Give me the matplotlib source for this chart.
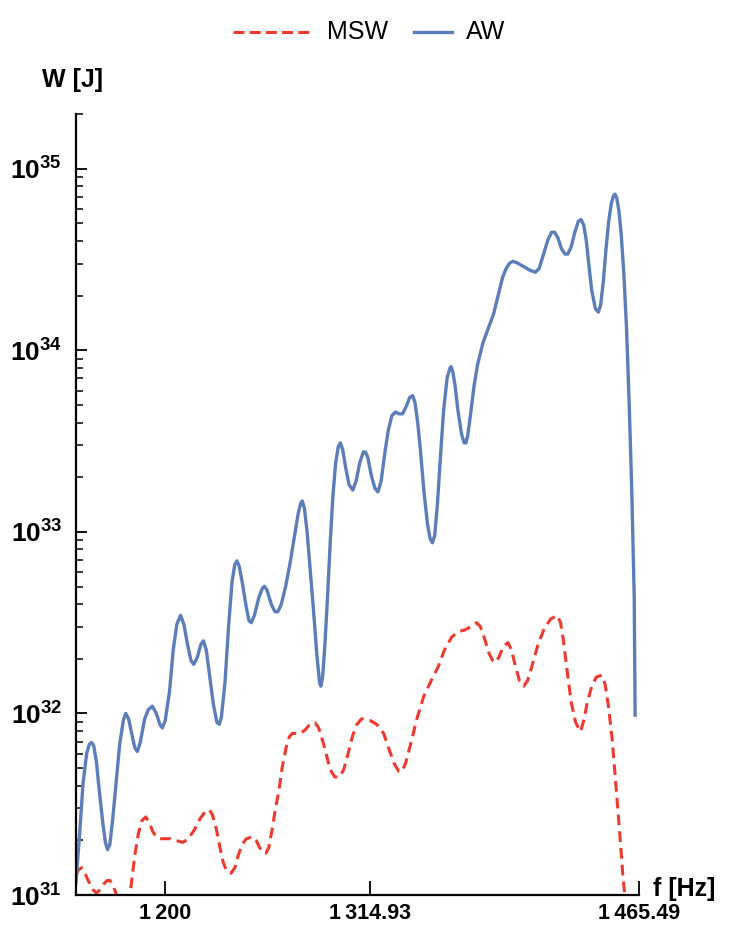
import numpy as np
import matplotlib
matplotlib.use('Agg')
import matplotlib.pyplot as plt
from matplotlib.lines import Line2D
from matplotlib.ticker import FixedLocator, LogLocator, FuncFormatter, NullFormatter

plt.rcParams['font.family'] = ['Liberation Sans', 'DejaVu Sans']
plt.rcParams['mathtext.fontset'] = 'custom'
plt.rcParams['mathtext.rm'] = 'Liberation Sans'
plt.rcParams['mathtext.bf'] = 'Liberation Sans:bold'

## AW curve: frequency [Hz] and log10 of W [J]
aw_f = [1150.0, 1152.0, 1154.0, 1156.0, 1157.5, 1158.8, 1160.0, 1161.5, 1163.0, 1165.0,
        1166.5, 1167.7, 1169.0, 1170.6, 1172.5, 1174.5, 1176.5, 1177.9, 1179.5, 1181.2,
        1183.0, 1184.4, 1186.0, 1188.5, 1190.5, 1192.8, 1195.0, 1197.0, 1198.4, 1200.0,
        1202.4, 1204.5, 1206.5, 1208.6, 1210.5, 1212.5, 1214.5, 1216.0, 1218.0, 1220.0,
        1221.4, 1223.0, 1225.0, 1227.0, 1229.0, 1230.3, 1231.5, 1233.5, 1235.5, 1237.5,
        1239.0, 1240.2, 1241.5, 1243.2, 1245.5, 1247.0, 1248.2, 1250.0, 1252.5, 1254.5,
        1255.6, 1257.0, 1259.5, 1261.5, 1263.1, 1265.0, 1267.5, 1270.0, 1272.5, 1274.5,
        1276.0, 1276.8, 1278.0, 1279.5, 1281.0, 1283.0, 1285.0, 1286.5, 1287.2, 1288.2,
        1289.5, 1291.0, 1292.5, 1294.0, 1295.5, 1297.0, 1298.2, 1299.5, 1301.0, 1303.0,
        1305.1, 1307.0, 1309.0, 1311.0, 1312.2, 1313.5, 1315.5, 1317.5, 1319.2, 1321.0,
        1323.0, 1325.0, 1327.0, 1329.0, 1331.0, 1333.0, 1335.0, 1337.0, 1338.7, 1340.0,
        1341.5, 1343.0, 1345.0, 1347.0, 1348.5, 1349.7, 1351.0, 1352.5, 1354.0, 1356.0,
        1358.0, 1359.5, 1360.2, 1361.2, 1362.5, 1364.0, 1366.0, 1367.5, 1368.5, 1369.5,
        1371.0, 1373.0, 1375.0, 1378.0, 1381.0, 1384.0, 1386.5, 1389.0, 1391.0, 1393.0,
        1394.9, 1397.5, 1401.0, 1404.5, 1407.4, 1409.5, 1412.0, 1414.5, 1416.5, 1418.2,
        1420.0, 1422.0, 1424.0, 1425.6, 1427.5, 1429.5, 1431.5, 1433.0, 1434.5, 1436.0,
        1437.5, 1439.0, 1441.0, 1442.7, 1444.0, 1445.5, 1447.0, 1448.5, 1450.0, 1451.2,
        1452.0, 1453.0, 1454.2, 1455.5, 1457.0, 1458.5, 1460.0, 1461.5, 1462.8, 1463.3]
aw_lg = [31.07, 31.33, 31.62, 31.78, 31.83, 31.84, 31.82, 31.73, 31.58, 31.40,
         31.29, 31.25, 31.28, 31.42, 31.62, 31.83, 31.96, 32.00, 31.97, 31.89,
         31.81, 31.79, 31.84, 31.97, 32.02, 32.04, 32.00, 31.94, 31.92, 31.96,
         32.12, 32.35, 32.49, 32.54, 32.49, 32.38, 32.29, 32.27, 32.31, 32.38,
         32.40, 32.35, 32.20, 32.05, 31.95, 31.94, 31.98, 32.17, 32.48, 32.73,
         32.82, 32.84, 32.81, 32.72, 32.58, 32.51, 32.50, 32.54, 32.64, 32.69,
         32.70, 32.68, 32.60, 32.56, 32.56, 32.60, 32.70, 32.83, 32.98, 33.10,
         33.16, 33.17, 33.13, 33.00, 32.82, 32.58, 32.32, 32.17, 32.15, 32.20,
         32.38, 32.65, 32.95, 33.20, 33.38, 33.47, 33.49, 33.45, 33.36, 33.26,
         33.23, 33.28, 33.38, 33.44, 33.44, 33.41, 33.31, 33.24, 33.22, 33.28,
         33.43, 33.56, 33.64, 33.66, 33.65, 33.65, 33.69, 33.74, 33.75, 33.71,
         33.60, 33.45, 33.22, 33.04, 32.96, 32.94, 32.98, 33.15, 33.38, 33.67,
         33.85, 33.90, 33.91, 33.88, 33.80, 33.67, 33.54, 33.49, 33.49, 33.53,
         33.64, 33.80, 33.92, 34.04, 34.12, 34.20, 34.30, 34.40, 34.45, 34.48,
         34.49, 34.48, 34.46, 34.44, 34.43, 34.45, 34.53, 34.61, 34.65, 34.65,
         34.62, 34.56, 34.53, 34.53, 34.57, 34.65, 34.71, 34.72, 34.69, 34.60,
         34.46, 34.33, 34.23, 34.21, 34.25, 34.38, 34.56, 34.71, 34.81, 34.85,
         34.86, 34.84, 34.77, 34.64, 34.42, 34.12, 33.70, 33.20, 32.64, 31.99]

## MSW curve
msw_f = [1150.0, 1151.5, 1153.2, 1155.0, 1157.3, 1159.5, 1161.5, 1163.5, 1165.5, 1167.5,
         1169.0, 1170.5, 1172.0, 1173.4, 1175.0, 1176.8, 1178.5, 1180.1, 1181.5, 1183.0,
         1185.0, 1187.0, 1189.1, 1191.0, 1193.0, 1195.0, 1197.0, 1200.0, 1203.0, 1206.0,
         1209.9, 1213.0, 1216.4, 1219.5, 1222.5, 1224.8, 1226.5, 1228.5, 1230.5, 1232.5,
         1234.5, 1236.9, 1239.0, 1241.0, 1243.2, 1245.5, 1248.9, 1251.0, 1253.0, 1255.0,
         1256.4, 1258.0, 1259.9, 1261.5, 1263.8, 1265.5, 1267.7, 1269.5, 1271.2, 1273.5,
         1275.9, 1278.5, 1281.0, 1283.9, 1286.0, 1288.5, 1290.6, 1292.5, 1295.0, 1297.8,
         1300.0, 1302.5, 1305.1, 1307.5, 1310.0, 1312.3, 1315.0, 1318.5, 1322.4, 1325.5,
         1328.5, 1331.0, 1332.6, 1334.5, 1337.5, 1341.0, 1344.7, 1348.5, 1353.1, 1356.5,
         1360.5, 1364.0, 1368.0, 1371.5, 1374.4, 1376.5, 1379.0, 1381.5, 1383.5, 1385.0,
         1387.0, 1389.5, 1392.1, 1394.0, 1396.0, 1398.5, 1400.9, 1403.0, 1405.5, 1408.9,
         1412.5, 1416.0, 1419.6, 1421.5, 1423.0, 1425.0, 1427.5, 1430.0, 1432.7, 1434.5,
         1436.5, 1439.0, 1441.5, 1444.6, 1446.5, 1448.5, 1450.5, 1452.5, 1454.6, 1456.5,
         1457.6, 1459.1]
msw_lg = [31.11, 31.14, 31.15, 31.12, 31.07, 31.03, 31.01, 31.03, 31.06, 31.08,
          31.08, 31.06, 31.02, 30.98, 30.90, 30.86, 30.90, 30.99, 31.10, 31.22,
          31.34, 31.41, 31.43, 31.40, 31.35, 31.32, 31.31, 31.31, 31.31, 31.30,
          31.29, 31.31, 31.36, 31.42, 31.46, 31.47, 31.44, 31.37, 31.27, 31.18,
          31.13, 31.12, 31.15, 31.22, 31.28, 31.31, 31.32, 31.30, 31.26, 31.23,
          31.23, 31.26, 31.36, 31.46, 31.58, 31.70, 31.81, 31.87, 31.89, 31.89,
          31.89, 31.91, 31.94, 31.95, 31.92, 31.84, 31.76, 31.69, 31.65, 31.65,
          31.69, 31.78, 31.88, 31.94, 31.97, 31.97, 31.96, 31.94, 31.89, 31.80,
          31.72, 31.68, 31.68, 31.72, 31.83, 31.97, 32.09, 32.17, 32.26, 32.35,
          32.42, 32.45, 32.46, 32.48, 32.50, 32.48, 32.41, 32.33, 32.29, 32.28,
          32.31, 32.37, 32.39, 32.35, 32.27, 32.18, 32.15, 32.18, 32.26, 32.38,
          32.47, 32.52, 32.54, 32.50, 32.41, 32.25, 32.06, 31.95, 31.90, 31.96,
          32.06, 32.15, 32.20, 32.21, 32.16, 32.03, 31.85, 31.61, 31.35, 31.10,
          30.99, 30.80]

xticks = [1200, 1314.93, 1465.49]
xtick_labels = ['1\u2009200', '1\u2009314.93', '1\u2009465.49']

aw_col = '#5b7db9'
msw_col = '#ee3a2c'

fig = plt.figure(figsize=(7.34, 9.48), dpi=100)
ax = fig.add_axes([0.1035, 0.0559, 0.7671, 0.8238])

ax.plot(msw_f, 10**np.array(msw_lg), color=msw_col, lw=2.2, dashes=(3.5, 2.0))
ax.plot(aw_f, 10**np.array(aw_lg), color=aw_col, lw=2.4, solid_joinstyle='round')

ax.set_yscale('log')
ax.set_xlim(1150, 1465.49)
ax.set_ylim(1e31, 2e35)

for s in ['top', 'right']:
    ax.spines[s].set_visible(False)
for s in ['left', 'bottom']:
    ax.spines[s].set_linewidth(1.6)

ax.xaxis.set_major_locator(FixedLocator(xticks))
ax.set_xticklabels(xtick_labels, fontsize=15.5, fontweight='bold')
ax.yaxis.set_major_locator(LogLocator(base=10, numticks=10))
ax.yaxis.set_minor_locator(LogLocator(base=10, subs=np.arange(2, 10), numticks=20))
ax.yaxis.set_major_formatter(FuncFormatter(lambda v, p: r'$\mathbf{10^{%d}}$' % round(np.log10(v))))
ax.yaxis.set_minor_formatter(NullFormatter())
ax.tick_params(axis='y', which='major', direction='in', length=8, width=1.3, labelsize=19, pad=10)
ax.tick_params(axis='y', which='minor', direction='in', length=5, width=1.1)
ax.tick_params(axis='x', which='major', direction='in', length=10, width=1.3, pad=6)

fig.text(42/734, 1 - 80/948, 'W [J]', fontsize=18, fontweight='bold', ha='left', va='center')
fig.text(653/734, 1 - 889/948, 'f [Hz]', fontsize=18, fontweight='bold', ha='left', va='center')

# legend drawn by hand (handles have different lengths)
ly = 1 - 32/948
fig.add_artist(Line2D([233/734, 309/734], [ly, ly], color=msw_col, lw=2.2, dashes=(3.6, 1.7),
                      transform=fig.transFigure))
fig.add_artist(Line2D([414/734, 452/734], [ly, ly], color=aw_col, lw=2.4, transform=fig.transFigure))
fig.text(327/734, ly, 'MSW', fontsize=18, ha='left', va='center')
fig.text(466/734, ly, 'AW', fontsize=18, ha='left', va='center')

fig.savefig('out.png', dpi=100)
